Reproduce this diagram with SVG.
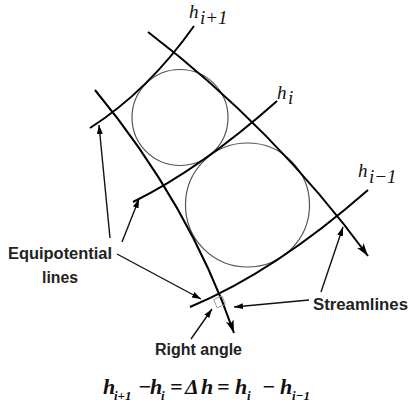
<svg xmlns="http://www.w3.org/2000/svg" width="409" height="410" viewBox="0 0 409 410">
<defs>
<marker id="bigArrow" markerUnits="userSpaceOnUse" markerWidth="15" markerHeight="10" refX="13" refY="4" orient="auto"><path d="M0,0 L13,4 L0,8 L3,4 z" fill="#000"/></marker>
<marker id="smallArrow" markerUnits="userSpaceOnUse" markerWidth="10" markerHeight="8" refX="9" refY="3" orient="auto"><path d="M0,0 L9,3 L0,6 z" fill="#000"/></marker>
</defs>
<style>
.eq{fill:none;stroke:#000;stroke-width:2}
.sl{fill:none;stroke:#000;stroke-width:2;marker-end:url(#bigArrow)}
.circ{fill:none;stroke:#555;stroke-width:1.2}
.lead{fill:none;stroke:#111;stroke-width:1.4;marker-end:url(#smallArrow)}
.lbl{font-family:"Liberation Sans",Arial,sans-serif;font-weight:bold;font-size:16px;fill:#222}
.h{font-family:"Liberation Serif","Times New Roman",serif;font-style:italic;font-size:19px;fill:#111}
.eqn{font-family:"Liberation Serif","Times New Roman",serif;font-style:italic;font-weight:bold;font-size:22px;fill:#111}
</style>
<rect width="409" height="410" fill="#fff"/>
<g id="circles">
<circle class="circ" cx="180" cy="117.5" r="48"/>
<circle class="circ" cx="247.5" cy="205" r="62"/>
</g>
<g id="equipotentials">
<path id="eq-h-iplus1" class="eq" d="M90,128 Q148,91 194,26"/>
<path id="eq-h-i" class="eq" d="M133,202 Q201,168.5 277,101"/>
<path id="eq-h-iminus1" class="eq" d="M190,307 Q275,271.5 368,190"/>
</g>
<g id="streamlines">
<path id="sl-left" class="sl" d="M95,90 Q189.5,204.5 234,333"/>
<path id="sl-right" class="sl" d="M148,32 Q274,128 368,256"/>
</g>
<g id="right-angle-mark">
<path d="M222,296 L225.4,304.3 L217.1,307.8 L213.7,299.5 z" fill="none" stroke="#999" stroke-width="1"/>
</g>
<g id="connectors">
<path class="lead" d="M110,238 L99,125"/>
<path class="lead" d="M122,242 L139,199"/>
<path class="lead" d="M117,254 L201,299"/>
<path class="lead" d="M321,292 L343,227"/>
<path class="lead" d="M309,300 L234,307"/>
<path class="lead" d="M191,339 L212,309"/>
</g>
<g id="label-h-iplus1"><text class="h" x="189" y="18">h</text><text class="h" x="200" y="24" font-size="12">i+1</text></g>
<g id="label-h-i"><text class="h" x="277" y="99">h</text><text class="h" x="288" y="104" font-size="12">i</text></g>
<g id="label-h-iminus1"><text class="h" x="358" y="177">h</text><text class="h" x="369" y="183" font-size="12">i−1</text></g>
<g id="label-equipotential">
<text class="lbl" x="8" y="259" textLength="104" lengthAdjust="spacingAndGlyphs">Equipotential</text>
<text class="lbl" x="42" y="283" textLength="36" lengthAdjust="spacingAndGlyphs">lines</text>
</g>
<g id="label-streamlines"><text class="lbl" x="313" y="310" textLength="95" lengthAdjust="spacingAndGlyphs">Streamlines</text></g>
<g id="label-right-angle"><text class="lbl" x="155" y="355" textLength="87" lengthAdjust="spacingAndGlyphs">Right angle</text></g>
<g id="equation" class="eqn">
<text x="103" y="394">h</text>
<text x="114" y="400" font-size="13">i+1</text>
<text x="138" y="394">−</text>
<text x="150" y="394">h</text>
<text x="161" y="400" font-size="13">i</text>
<text x="170" y="394">=</text>
<text x="185" y="394">Δ</text>
<text x="201" y="394">h</text>
<text x="217" y="394">=</text>
<text x="235" y="394">h</text>
<text x="247" y="400" font-size="13">i</text>
<text x="262" y="394">−</text>
<text x="280" y="394">h</text>
<text x="292" y="400" font-size="13">i−1</text>
</g>
</svg>
